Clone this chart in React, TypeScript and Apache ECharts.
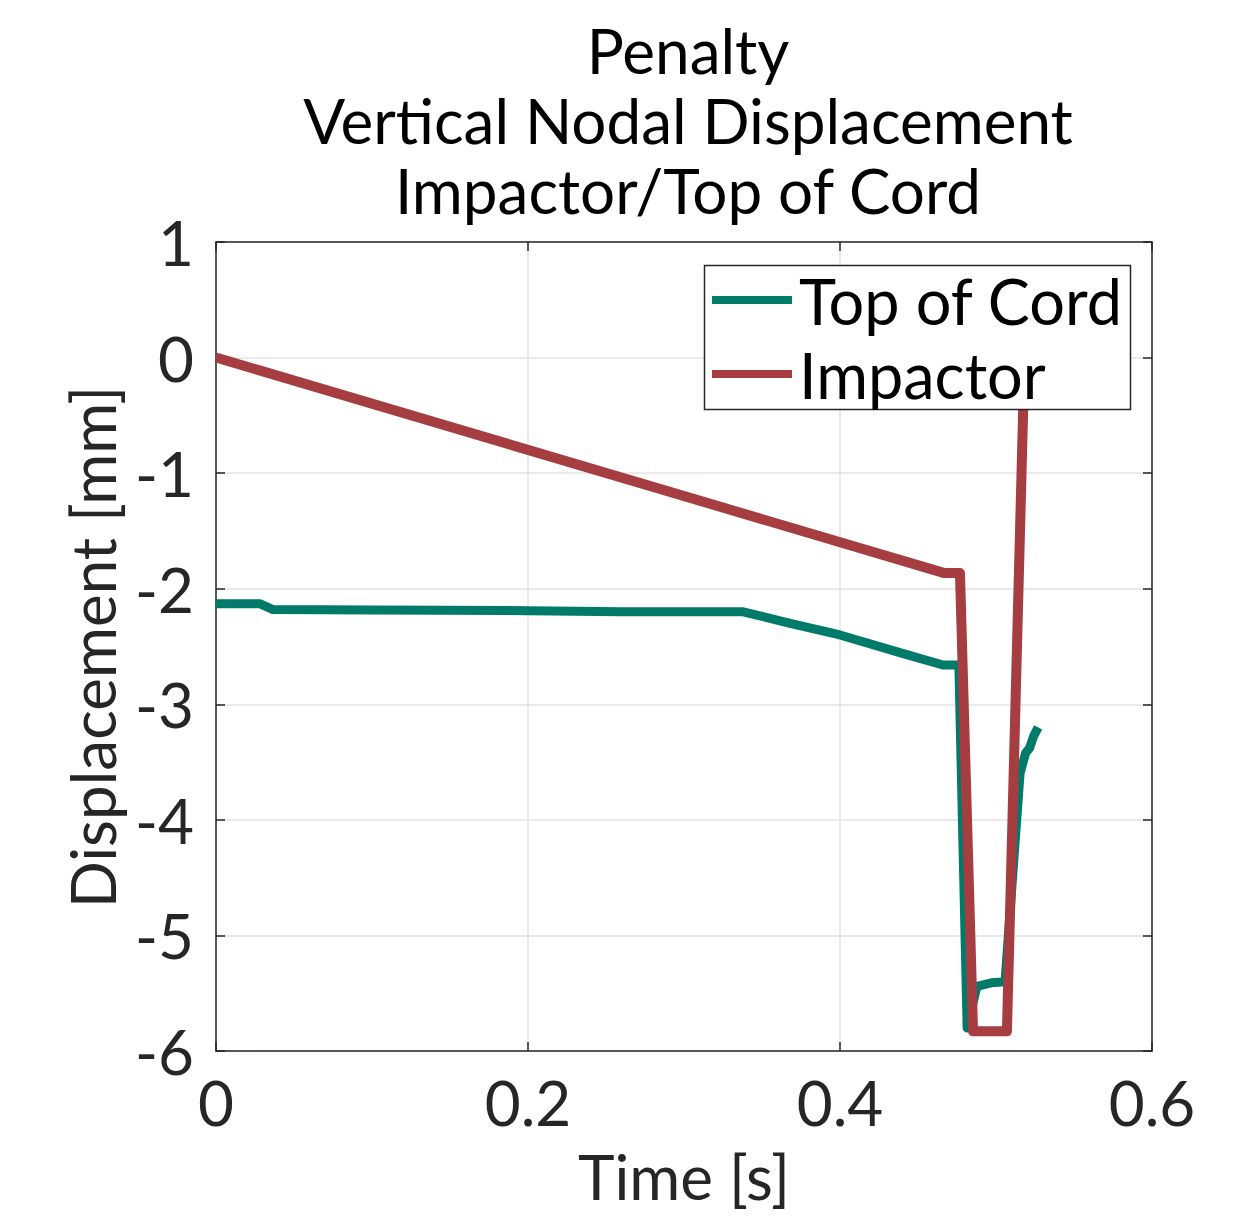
import React, { useEffect, useRef } from "react";
import * as echarts from "echarts";

const titleLines = ["Penalty", "Vertical Nodal Displacement", "Impactor/Top of Cord"];
const xName = "Time [s]";
const yName = "Displacement [mm]";
const seriesNames = ["Top of Cord", "Impactor"];
const seriesColors = ["#007A69", "#A63D40"];

const cordTime = [0, 0.028, 0.0365, 0.1, 0.2, 0.26, 0.338, 0.368, 0.4, 0.44, 0.466, 0.4762, 0.4815, 0.4878, 0.497, 0.5058, 0.5154, 0.519, 0.5215, 0.524, 0.527];
const cordDisp = [-2.13, -2.13, -2.18, -2.185, -2.19, -2.2, -2.2, -2.3, -2.4, -2.56, -2.66, -2.66, -5.8, -5.44, -5.41, -5.4, -3.6, -3.42, -3.38, -3.28, -3.2];

const impTime = [0, 0.467, 0.4769, 0.4853, 0.507, 0.5183];
const impDisp = [0, -1.865, -1.865, -5.83, -5.83, 0];

const xMin = 0, xMax = 0.6, xStep = 0.2;
const yMin = -6, yMax = 1, yStep = 1;

const FONT = "Lato";
const INK = "#262626";

export default function App() {
  const ref = useRef<HTMLDivElement>(null);
  useEffect(() => {
    if (!ref.current) return;
    const chart = echarts.init(ref.current, null, { renderer: "svg" });
    const gridL = 216, gridT = 242, gridW = 936, gridH = 809;
    const axisCommon = {
      axisLine: { show: true, onZero: false, lineStyle: { color: INK, width: 1.5 } },
      axisTick: { show: true, inside: true, length: 9, lineStyle: { color: INK, width: 1.5 } },
    };
    chart.setOption({
      animation: false,
      backgroundColor: "#ffffff",
      grid: { left: gridL, top: gridT, width: gridW, height: gridH, containLabel: false },
      xAxis: [
        {
          type: "value", min: xMin, max: xMax, interval: xStep, position: "bottom",
          ...axisCommon,
          axisLabel: { color: INK, fontFamily: FONT, fontSize: 62, margin: 20 },
          splitLine: { show: true, lineStyle: { color: "#e3e3e3", width: 1.5 } },
        },
        {
          type: "value", min: xMin, max: xMax, interval: xStep, position: "top",
          ...axisCommon, axisLabel: { show: false }, splitLine: { show: false },
        },
      ],
      yAxis: [
        {
          type: "value", min: yMin, max: yMax, interval: yStep, position: "left",
          ...axisCommon,
          axisLabel: { color: INK, fontFamily: FONT, fontSize: 62, margin: 22 },
          splitLine: { show: true, lineStyle: { color: "#e3e3e3", width: 1.5 } },
        },
        {
          type: "value", min: yMin, max: yMax, interval: yStep, position: "right",
          ...axisCommon, axisLabel: { show: false }, splitLine: { show: false },
        },
      ],
      legend: {
        orient: "vertical",
        left: 712,
        top: 266,
        padding: 0,
        itemWidth: 80,
        itemHeight: 8,
        itemGap: 6,
        icon: "rect",
        textStyle: { color: "#000", fontFamily: FONT, fontSize: 63, lineHeight: 68, padding: [0, 0, 0, 2] },
        data: seriesNames.map((n, i) => ({ name: n, itemStyle: { color: seriesColors[i] } })),
        z: 10,
      },
      graphic: [
        ...titleLines.map((t, i) => ({
          type: "text",
          x: 688,
          y: 50 + i * 70,
          style: { text: t, fill: "#000", font: `62px ${FONT}`, textAlign: "center", textVerticalAlign: "middle" },
        })),
        {
          type: "text", x: 684, y: 1176,
          style: { text: xName, fill: INK, font: `62px ${FONT}`, textAlign: "center", textVerticalAlign: "middle" },
        },
        {
          type: "text", x: 92, y: 647, rotation: Math.PI / 2,
          style: { text: yName, fill: INK, font: `62px ${FONT}`, textAlign: "center", textVerticalAlign: "middle" },
        },
        {
          type: "rect", z: 5,
          shape: { x: 704.5, y: 265.5, width: 426, height: 144 },
          style: { fill: "#ffffff", stroke: INK, lineWidth: 1.5 },
        },
      ],
      series: [
        {
          name: seriesNames[0], type: "line", showSymbol: false, xAxisIndex: 0, yAxisIndex: 0,
          data: cordTime.map((t, i) => [t, cordDisp[i]]),
          lineStyle: { color: seriesColors[0], width: 9, join: "round" },
          itemStyle: { color: seriesColors[0] },
          z: 2,
        },
        {
          name: seriesNames[1], type: "line", showSymbol: false, xAxisIndex: 0, yAxisIndex: 0,
          data: impTime.map((t, i) => [t, impDisp[i]]),
          lineStyle: { color: seriesColors[1], width: 10, join: "round" },
          itemStyle: { color: seriesColors[1] },
          z: 3,
        },
      ],
    });
    return () => chart.dispose();
  }, []);
  return <div ref={ref} style={{ position: "fixed", left: 0, top: 0, width: 1260, height: 1217 }} />;
}
